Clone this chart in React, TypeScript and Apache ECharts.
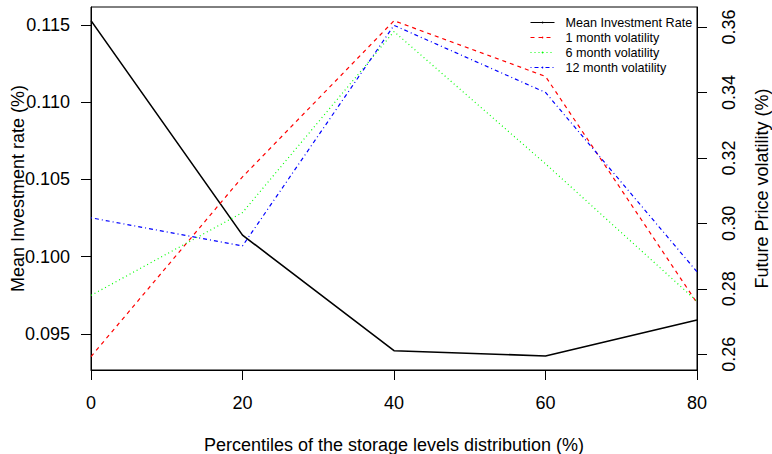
import React, { useEffect, useRef } from "react";
import * as echarts from "echarts";

const percentiles = [0, 20, 40, 60, 80];
const meanInvestment = [0.11528, 0.1014, 0.09392, 0.09358, 0.0959];
const vol1m = [0.2593, 0.3142, 0.3619, 0.3449, 0.2757];
const vol6m = [0.278, 0.3033, 0.3586, 0.3182, 0.2762];
const vol12m = [0.3017, 0.2931, 0.3605, 0.34, 0.2852];
const xTicks = [0, 20, 40, 60, 80];
const leftTicks = [0.095, 0.1, 0.105, 0.11, 0.115];
const rightTicks = [0.26, 0.28, 0.3, 0.32, 0.34, 0.36];
const seriesNames = ["Mean Investment Rate", "1 month volatility", "6 month volatility", "12 month volatility"];

const FONT = "'Liberation Sans', Arial, sans-serif";
const LEFT_MIN = 0.09267;
const LEFT_MAX = 0.11616;
const RIGHT_MIN = 0.2552;
const RIGHT_MAX = 0.3661;

export default function App() {
  const ref = useRef<HTMLDivElement>(null);
  useEffect(() => {
    if (!ref.current) return;
    const chart = echarts.init(ref.current, null, { renderer: "svg" });
    const pts = (arr: number[]) => percentiles.map((x, i) => [x, arr[i]]);
    const tick = (values: number[]) => ({
      show: true,
      inside: false,
      length: 10,
      customValues: values,
      lineStyle: { color: "#000", width: 1 },
    });
    chart.setOption({
      animation: false,
      textStyle: { fontFamily: FONT },
      grid: {
        left: 91,
        right: 75,
        top: 7,
        bottom: 84,
        containLabel: false,
        outerBoundsMode: "none",
        show: true,
        borderColor: "#000",
        borderWidth: 1,
        backgroundColor: "transparent",
      },
      legend: {
        orient: "vertical",
        left: 530,
        top: 15,
        itemWidth: 24,
        itemHeight: 2,
        itemGap: 0,
        padding: 0,
        data: seriesNames,
        lineStyle: { width: 1 },
        textStyle: {
          fontFamily: FONT,
          fontSize: 12.6,
          color: "#000",
          lineHeight: 15,
          padding: [0, 0, 0, 6],
        },
      },
      xAxis: {
        type: "value",
        min: 0,
        max: 80,
        interval: 20,
        name: "Percentiles of the storage levels distribution (%)",
        nameLocation: "middle",
        nameGap: 66,
        nameMoveOverlap: false,
        nameTextStyle: { fontFamily: FONT, fontSize: 18, color: "#000" },
        axisLine: { show: true, onZero: false, lineStyle: { color: "#000", width: 1 } },
        axisTick: tick(xTicks),
        axisLabel: { fontFamily: FONT, fontSize: 18, color: "#000", margin: 24, customValues: xTicks },
        splitLine: { show: false },
      },
      yAxis: [
        {
          type: "value",
          position: "left",
          min: LEFT_MIN,
          max: LEFT_MAX,
          name: "Mean Investment rate (%)",
          nameLocation: "middle",
          nameGap: 64,
          nameMoveOverlap: false,
          nameTextStyle: { fontFamily: FONT, fontSize: 18, color: "#000" },
          axisLine: { show: true, onZero: false, lineStyle: { color: "#000", width: 1 } },
          axisTick: tick(leftTicks),
          axisLabel: {
            fontFamily: FONT,
            fontSize: 18,
            color: "#000",
            margin: 21,
            customValues: leftTicks,
            formatter: (v: number) => v.toFixed(3),
          },
          splitLine: { show: false },
        },
        {
          type: "value",
          position: "right",
          min: RIGHT_MIN,
          max: RIGHT_MAX,
          name: "Future Price volatility (%)",
          nameLocation: "middle",
          nameGap: 56,
          nameRotate: 90,
          nameMoveOverlap: false,
          nameTextStyle: { fontFamily: FONT, fontSize: 18, color: "#000" },
          axisLine: { show: true, onZero: false, lineStyle: { color: "#000", width: 1 } },
          axisTick: tick(rightTicks),
          axisLabel: {
            fontFamily: FONT,
            fontSize: 18,
            color: "#000",
            margin: 23,
            rotate: 90,
            customValues: rightTicks,
            formatter: (v: number) => v.toFixed(2),
          },
          splitLine: { show: false },
        },
      ],
      series: [
        {
          name: seriesNames[0],
          type: "line",
          yAxisIndex: 0,
          data: pts(meanInvestment),
          symbol: "none",
          lineStyle: { color: "#000", width: 1.6, type: "solid" },
          itemStyle: { color: "#000" },
        },
        {
          name: seriesNames[1],
          type: "line",
          yAxisIndex: 1,
          data: pts(vol1m),
          symbol: "none",
          lineStyle: { color: "#FF0000", width: 1.2, type: [4, 4] },
          itemStyle: { color: "#FF0000" },
        },
        {
          name: seriesNames[2],
          type: "line",
          yAxisIndex: 1,
          data: pts(vol6m),
          symbol: "none",
          lineStyle: { color: "#00FF00", width: 1.2, type: [1, 3] },
          itemStyle: { color: "#00FF00" },
        },
        {
          name: seriesNames[3],
          type: "line",
          yAxisIndex: 1,
          data: pts(vol12m),
          symbol: "none",
          lineStyle: { color: "#0000FF", width: 1.2, type: [1, 3, 4, 3] },
          itemStyle: { color: "#0000FF" },
        },
      ],
    });
    return () => chart.dispose();
  }, []);
  return <div ref={ref} style={{ width: 772, height: 454, position: "absolute", left: 0, top: 0 }} />;
}
